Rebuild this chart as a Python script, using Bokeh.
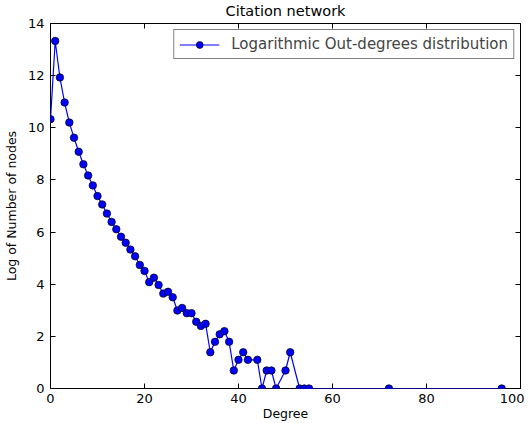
from bokeh.plotting import figure
from bokeh.models import LinearAxis, Range1d, SingleIntervalTicker, Legend, LegendItem, CustomJSTickFormatter
from bokeh.embed import file_html
from bokeh.resources import INLINE

degrees = [0, 1, 2, 3, 4, 5, 6, 7, 8, 9, 10, 11, 12, 13, 14, 15, 16, 17, 18, 19,
           20, 21, 22, 23, 24, 25, 26, 27, 28, 29, 30, 31, 32, 33, 34, 35, 36, 37,
           38, 39, 40, 41, 42, 44, 45, 46, 47, 48, 50, 51, 53, 54, 55, 72, 96]
log_counts = [10.33, 13.33, 11.93, 10.97, 10.2, 9.62, 9.08, 8.6, 8.17, 7.79,
              7.38, 7.06, 6.71, 6.39, 6.11, 5.82, 5.59, 5.33, 5.07, 4.74,
              4.51, 4.08, 4.25, 3.97, 3.64, 3.71, 3.5, 2.99, 3.09, 2.89,
              2.89, 2.56, 2.4, 2.48, 1.39, 1.79, 2.08, 2.2, 1.79, 0.69,
              1.1, 1.39, 1.1, 1.1, 0.0, 0.69, 0.69, 0.0, 0.69, 1.39,
              0.0, 0.0, 0.0, 0.0, 0.0]

FONT = "DejaVu Sans"

p = figure(frame_width=470, frame_height=365, output_backend="svg", toolbar_location=None,
           x_range=Range1d(0, 100), y_range=Range1d(0, 14),
           min_border_left=41, min_border_right=4, min_border_top=17, min_border_bottom=0,
           title="Citation network")
p.title.align = "center"
p.title.text_font = FONT
p.title.text_font_size = "14.5px"
p.title.text_font_style = "normal"
p.title.text_color = "black"
p.title.standoff = 1

p.grid.visible = False
p.outline_line_color = "black"
p.outline_line_width = 1
p.background_fill_color = "white"
p.border_fill_color = "white"

for ax in (p.xaxis[0], p.yaxis[0]):
    ax.axis_line_color = None
    ax.major_tick_in = 5
    ax.major_tick_out = 0
    ax.minor_tick_line_color = None
    ax.major_tick_line_color = "black"
    ax.major_label_text_font = FONT
    ax.major_label_text_font_size = "13px"
    ax.major_label_text_color = "black"
    ax.axis_label_text_font = FONT
    ax.axis_label_text_font_size = "12.5px"
    ax.axis_label_text_font_style = "normal"
    ax.axis_label_text_color = "black"
    ax.major_label_standoff = 1
    ax.axis_label_standoff = 0

p.xaxis[0].ticker = SingleIntervalTicker(interval=20)
p.yaxis[0].ticker = SingleIntervalTicker(interval=2)
p.xaxis[0].axis_label = "Degree"
p.yaxis[0].axis_label = "Log of Number of nodes"
p.yaxis[0].major_label_standoff = 2
p.yaxis[0].axis_label_standoff = 6

blank = CustomJSTickFormatter(code="return '';")
top = LinearAxis(ticker=SingleIntervalTicker(interval=20), axis_line_color=None,
                 major_tick_in=5, major_tick_out=0, minor_tick_line_color=None,
                 formatter=blank, major_label_standoff=0)
right = LinearAxis(ticker=SingleIntervalTicker(interval=2), axis_line_color=None,
                   major_tick_in=5, major_tick_out=0, minor_tick_line_color=None,
                   formatter=blank, major_label_standoff=0)
p.add_layout(top, "above")
p.add_layout(right, "right")

ln = p.line(degrees, log_counts, line_color="#0000ff", line_width=1.2)
sc = p.scatter(degrees, log_counts, size=7.5, fill_color="#0000ff",
               line_color="black", line_width=0.7)

legend = Legend(items=[LegendItem(label="Logarithmic Out-degrees distribution",
                                  renderers=[ln, sc])],
                location="top_right")
legend.label_text_font = FONT
legend.label_text_font_size = "15px"
legend.border_line_color = "black"
legend.border_line_width = 1
legend.background_fill_alpha = 1
legend.margin = 6
legend.padding = 5
legend.spacing = 0
legend.glyph_width = 40
legend.glyph_height = 17
legend.label_standoff = 12
p.add_layout(legend, "center")

open("out.html", "w").write(file_html(p, INLINE))
